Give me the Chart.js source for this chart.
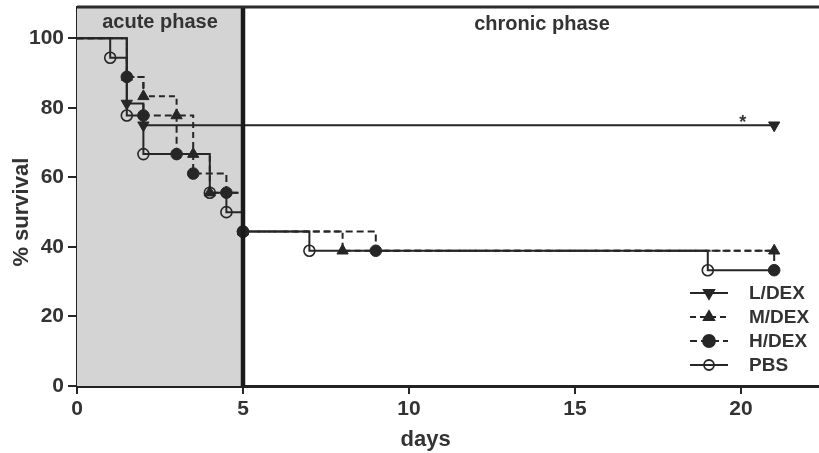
<!DOCTYPE html>
<html>
<head>
<meta charset="utf-8">
<script src="https://cdn.jsdelivr.net/npm/chart.js@4"></script>
<style>
  body { margin: 0; background: #fff; }
  #wrap { width: 819px; height: 453px; }
</style>
</head>
<body>
<div id="wrap"><canvas id="km" width="819" height="453"></canvas></div>
<script>
// survival data (days / % survival at each step)
const lDays = [0, 1.5, 2, 21];
const lSurv = [100, 81.25, 75, 75];
const mDays = [0, 1.5, 2, 3, 3.5, 4, 5, 8, 21];
const mSurv = [100, 88.9, 83.3, 77.8, 66.7, 55.6, 44.4, 38.9, 38.9];
const hDays = [0, 1.5, 2, 3, 3.5, 4.5, 5, 9, 21];
const hSurv = [100, 88.9, 77.8, 66.7, 61.1, 55.6, 44.4, 38.9, 33.3];
const pDays = [0, 1, 1.5, 2, 4, 4.5, 5, 7, 19, 21];
const pSurv = [100, 94.4, 77.8, 66.7, 55.6, 50, 44.4, 38.9, 33.3, 33.3];

const seriesNames = ['L/DEX', 'M/DEX', 'H/DEX', 'PBS'];
const xTicks = [0, 5, 10, 15, 20];
const yTicks = [0, 20, 40, 60, 80, 100];
const acuteEnd = 5;

const ink = '#262626';
const font = "'Liberation Sans', Arial, sans-serif";

function toPoints(days, surv) {
  const pts = [];
  for (let i = 0; i < days.length; i++) {
    pts.push({ x: days[i], y: surv[i] });
  }
  return pts;
}
// no marker on the starting point
function radii(n, r, hideLast) {
  const out = [];
  for (let i = 0; i < n; i++) out.push(i === 0 || (hideLast && i === n - 1) ? 0 : r);
  return out;
}

const datasets = [
  { label: seriesNames[0], data: toPoints(lDays, lSurv), order: 0,
    pointStyle: 'triangle', rotation: 180, pointRadius: radii(lDays.length, 6.5),
    backgroundColor: ink, borderDash: [] },
  { label: seriesNames[1], data: toPoints(mDays, mSurv), order: 3,
    pointStyle: 'triangle', rotation: 0, pointRadius: radii(mDays.length, 6.5),
    backgroundColor: ink, borderDash: [6, 4] },
  { label: seriesNames[2], data: toPoints(hDays, hSurv), order: 2,
    pointStyle: 'circle', rotation: 0, pointRadius: radii(hDays.length, 5.8),
    backgroundColor: ink, borderDash: [7, 4] },
  { label: seriesNames[3], data: toPoints(pDays, pSurv), order: 1,
    pointStyle: 'circle', rotation: 0, pointRadius: radii(pDays.length, 5.5, true),
    backgroundColor: 'rgba(0,0,0,0)', borderDash: [] }
];
datasets.forEach(d => {
  d.stepped = 'before';
  d.borderColor = ink;
  d.borderWidth = 2;
  d.pointBorderColor = ink;
  d.pointBackgroundColor = d.backgroundColor;
  d.pointBorderWidth = d.label === 'PBS' ? 1.6 : 1;
  d.pointRotation = d.rotation;
  d.pointHoverRadius = 0;
});

// gray acute phase box, frame, phase labels, axis titles, legend
const decor = {
  id: 'decor',
  beforeDatasetsDraw(chart) {
    const { ctx, chartArea: a, scales: { x } } = chart;
    const x5 = x.getPixelForValue(acuteEnd);
    ctx.save();
    ctx.fillStyle = '#d4d4d4';
    ctx.fillRect(a.left, a.top, x5 - a.left, a.bottom - a.top);
    ctx.restore();
  },
  afterDatasetsDraw(chart) {
    const { ctx, chartArea: a, scales: { x, y } } = chart;
    const x5 = x.getPixelForValue(acuteEnd);
    ctx.save();
    ctx.strokeStyle = '#1a1a1a';
    ctx.lineWidth = 4.5;
    ctx.beginPath();
    ctx.moveTo(x5, a.top);
    ctx.lineTo(x5, a.bottom);
    ctx.stroke();
    ctx.lineWidth = 3;
    ctx.strokeStyle = '#2b2b2b';
    ctx.beginPath();
    ctx.moveTo(a.left, a.top);
    ctx.lineTo(a.right, a.top);
    ctx.stroke();

    ctx.fillStyle = '#333';
    ctx.textAlign = 'center';
    ctx.textBaseline = 'alphabetic';
    ctx.font = 'bold 20px ' + font;
    ctx.fillText('acute phase', (a.left + x5) / 2, 28);
    ctx.fillText('chronic phase', 542, 30);
    ctx.font = 'bold 18px ' + font;
    ctx.fillText('*', x.getPixelForValue(20.05), 128);

    // axis titles, centred on the data range like the original
    ctx.font = 'bold 22px ' + font;
    ctx.fillText('days', (x.getPixelForValue(0) + x.getPixelForValue(21)) / 2, 446);
    ctx.save();
    ctx.translate(28, (y.getPixelForValue(0) + y.getPixelForValue(100)) / 2);
    ctx.rotate(-Math.PI / 2);
    ctx.fillText('% survival', 0, 0);
    ctx.restore();

    // legend
    const lx0 = 690, lx1 = 728, tx = 749;
    const rows = [293, 317, 341, 365];
    chart.data.datasets.forEach((d, i) => {
      const ly = rows[i];
      ctx.strokeStyle = ink;
      ctx.lineWidth = 1.8;
      ctx.setLineDash(d.borderDash);
      ctx.beginPath();
      ctx.moveTo(lx0, ly);
      ctx.lineTo(lx1, ly);
      ctx.stroke();
      ctx.setLineDash([]);
      ctx.fillStyle = d.pointBackgroundColor;
      ctx.strokeStyle = ink;
      Chart.helpers.drawPoint(ctx, {
        pointStyle: d.pointStyle, rotation: d.rotation,
        radius: d.label === 'PBS' ? 5 : 6, borderWidth: d.pointBorderWidth
      }, (lx0 + lx1) / 2, ly);
      ctx.fillStyle = '#333';
      ctx.textAlign = 'left';
      ctx.textBaseline = 'middle';
      ctx.font = 'bold 19px ' + font;
      ctx.fillText(d.label, tx, ly + 1);
    });
    ctx.restore();
  }
};

// drop the label overhang padding so the frame reaches the canvas edges
function noPad(s) {
  s.paddingTop = 0; s.paddingBottom = 0; s.paddingLeft = 0; s.paddingRight = 0;
}

new Chart(document.getElementById('km'), {
  type: 'line',
  data: { datasets: datasets },
  options: {
    responsive: false,
    animation: false,
    events: [],
    layout: { autoPadding: false, padding: { top: 7, left: 0, right: 0, bottom: 0 } },
    plugins: { legend: { display: false }, tooltip: { enabled: false } },
    scales: {
      x: {
        type: 'linear', min: 0, max: 22.35,
        afterFit(s) { s.height = 67; noPad(s); },
        afterBuildTicks(s) { s.ticks = xTicks.map(v => ({ value: v })); },
        grid: { drawOnChartArea: false, drawTicks: true, tickLength: 8, color: ink, lineWidth: 2 },
        border: { display: true, color: '#222', width: 3 },
        ticks: { padding: 3, color: '#333', font: { family: font, size: 21, weight: 'bold' } }
      },
      y: {
        type: 'linear', min: 0, max: 109,
        afterFit(s) { s.width = 77; noPad(s); },
        afterBuildTicks(s) { s.ticks = yTicks.map(v => ({ value: v })); },
        grid: { drawOnChartArea: false, drawTicks: true, tickLength: 9, color: ink, lineWidth: 2 },
        border: { display: true, color: '#222', width: 3 },
        ticks: { padding: 4, color: '#333', font: { family: font, size: 21, weight: 'bold' } }
      }
    }
  },
  plugins: [decor]
});
</script>
</body>
</html>
